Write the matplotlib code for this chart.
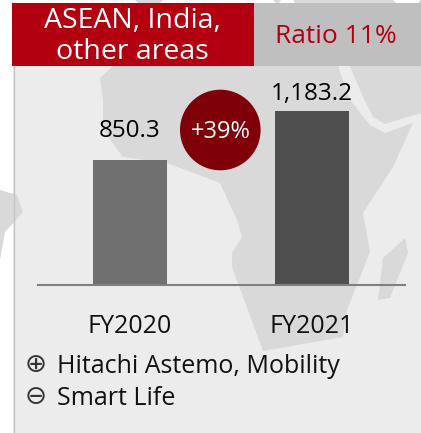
import matplotlib
matplotlib.use("Agg")
import matplotlib.pyplot as plt
from matplotlib.patches import Polygon, Rectangle, Circle

W, H = 421, 433
FONT = "Open Sans"
plt.rcParams["font.family"] = [FONT, "DejaVu Sans"]

categories = ["FY2020", "FY2021"]
values = [850.3, 1183.2]
value_labels = ["850.3", "1,183.2"]
bar_colors = ["#707070", "#4f4f4f"]
growth_label = "+39%"
title_lines = ["ASEAN, India,", "other areas"]
ratio_label = "Ratio 11%"
legend_items = [("\u2295", "Hitachi Astemo, Mobility"), ("\u2296", "Smart Life")]
label_offsets = [16.5, 8.2]

# decorative world-map background shapes, in pixels
map_shapes = [
    [(100, 78), (113, 66), (338, 66), (350, 100), (370, 125), (385, 133), (413, 123), (393, 167),
     (363, 213), (370, 252), (347, 310), (343, 337), (263, 351), (232, 267), (232, 253), (242, 237),
     (237, 220), (220, 183), (167, 163), (123, 157), (103, 130), (103, 100)],
    [(350, 66), (363, 97), (373, 117), (385, 124), (421, 113), (421, 66)],
    [(405, 238), (408, 253), (390, 298), (378, 300), (383, 258)],
    [(0, 190), (17, 195), (23, 212), (5, 232), (0, 260)],
    [(135, 0), (163, 0), (160, 3), (138, 3)],
    [(273, 0), (281, 0), (279, 3), (276, 3)],
    [(293, 0), (393, 0), (396, 3), (295, 3)],
    [(420, 0), (421, 0), (421, 3), (418, 3)],
]

fig = plt.figure(figsize=(W / 100, H / 100), dpi=100, facecolor="white")

bg = fig.add_axes([0, 0, 1, 1], zorder=0)
bg.set_xlim(0, W)
bg.set_ylim(H, 0)
bg.axis("off")
bg.add_patch(Rectangle((13, 66), W - 13, H - 66, fc="#ececec", ec="none"))
for s in map_shapes:
    bg.add_patch(Polygon(s, closed=True, fc="#d9d9d9", ec="none"))
bg.plot([13.5, 13.5], [66, 433], color="#c4c4c4", lw=1)
bg.add_patch(Rectangle((12, 3), 242, 63, fc="#b30011", ec="none"))
bg.add_patch(Rectangle((254, 3), 167, 63, fc="#bfbfbf", ec="none"))

ax = fig.add_axes([38 / W, (H - 284.5) / H, 367 / W, 218.5 / H], zorder=1)
ax.patch.set_alpha(0)
ax.bar(range(len(values)), values, width=0.403, color=bar_colors)
ax.set_xlim(-0.505, 1.511)
ax.set_ylim(0, 1492)
ax.set_yticks([])
ax.set_xticks(range(len(categories)))
ax.set_xticklabels(categories, fontsize=18, color="#111111")
ax.tick_params(axis="x", length=0, pad=21.5)
for sp in ["top", "left", "right"]:
    ax.spines[sp].set_visible(False)
ax.spines["bottom"].set_color("#7f7f7f")
ax.spines["bottom"].set_linewidth(1.5)
for i, (v, lab) in enumerate(zip(values, value_labels)):
    ax.annotate(lab, (i, v), xytext=(0, label_offsets[i]), textcoords="offset points", ha="center",
                va="baseline", fontsize=17.5, color="#000000")

top = fig.add_axes([0, 0, 1, 1], zorder=2)
top.set_xlim(0, W)
top.set_ylim(H, 0)
top.axis("off")
top.add_patch(Circle((220.3, 130), 40.3, fc="#7f0009", ec="none"))
top.text(220.5, 138, growth_label, color="white", fontsize=17, ha="center", va="baseline")
for line, y in zip(title_lines, [28, 59]):
    top.text(132.5, y, line, color="white", fontsize=20.5, ha="center", va="baseline")
top.text(336, 43, ratio_label, color="#b30011", fontsize=19, ha="center", va="baseline")
for (sym, lab), y in zip(legend_items, [373, 405]):
    top.text(36, y - 1, sym, fontsize=19, ha="center", va="baseline", color="#333333",
             family=["DejaVu Sans"])
    top.text(57, y, lab, fontsize=18, ha="left", va="baseline", color="#111111")

fig.savefig("out.png", dpi=100, facecolor="white")
